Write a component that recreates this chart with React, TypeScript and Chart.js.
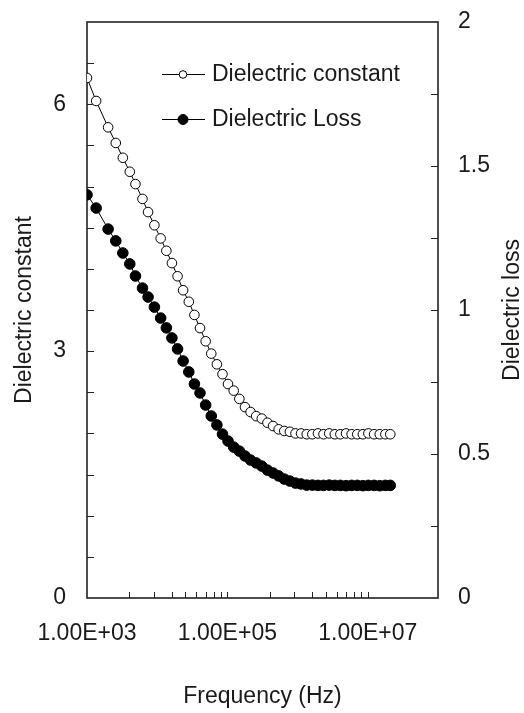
import React, { useEffect, useRef } from "react";
import { Chart, registerables } from "chart.js";

Chart.register(...registerables);

// ---- data ----
const FREQ_HZ = [
  1000, 1350, 2000, 2570, 3240, 4070, 4900, 6170, 7410, 9120,
  11200, 13500, 16200, 19500, 23400, 28200, 33900, 40700, 49000, 58900,
  70800, 85100, 102000, 123000, 148000, 178000, 214000, 257000, 309000, 372000,
  447000, 537000, 646000, 776000, 933000, 1120000, 1350000, 1620000, 1950000, 2340000,
  2820000, 3390000, 4070000, 4900000, 5890000, 7080000, 8510000, 10200000, 12300000, 14800000,
  17800000, 20900000,
];

const DIELECTRIC_CONSTANT = [
  6.32, 6.04, 5.72, 5.53, 5.35, 5.18, 5.03, 4.85, 4.69, 4.53,
  4.37, 4.22, 4.07, 3.91, 3.74, 3.6, 3.44, 3.28, 3.12, 2.97,
  2.84, 2.72, 2.6, 2.52, 2.42, 2.32, 2.26, 2.21, 2.18, 2.13,
  2.09, 2.05, 2.03, 2.02, 2.0, 2.0, 1.99, 1.99, 2.0, 1.99,
  2.0, 1.99, 1.99, 2.0, 1.99, 1.99, 1.99, 2.0, 1.99, 1.99,
  1.99, 1.99,
];

const DIELECTRIC_LOSS = [
  1.4, 1.354, 1.281, 1.24, 1.198, 1.16, 1.118, 1.076, 1.045, 1.01,
  0.972, 0.938, 0.903, 0.865, 0.823, 0.785, 0.743, 0.712, 0.67, 0.632,
  0.601, 0.569, 0.545, 0.524, 0.51, 0.493, 0.479, 0.469, 0.458, 0.444,
  0.434, 0.424, 0.413, 0.406, 0.399, 0.396, 0.392, 0.392, 0.391, 0.391,
  0.392, 0.391, 0.391, 0.39, 0.391, 0.391, 0.39, 0.391, 0.391, 0.39,
  0.391, 0.391,
];

const SERIES_LABELS = ["Dielectric constant", "Dielectric Loss"];
const X_TITLE = "Frequency (Hz)";
const Y_LEFT_TITLE = "Dielectric constant";
const Y_RIGHT_TITLE = "Dielectric loss";

const X_LABEL_TICKS = [1e3, 1e5, 1e7];
const X_MARK_TICKS = [
  4e3, 9e3, 16e3, 25e3, 36e3, 49e3, 64e3, 81e3, 1e5,
  4e5, 9e5, 1.6e6, 2.5e6, 3.6e6, 4.9e6, 6.4e6, 8.1e6, 1e7,
];
const LEFT_LABEL_TICKS = [0, 3, 6];
const LEFT_MARK_TICKS = [0.5, 1, 1.5, 2, 2.5, 3, 3.5, 4, 4.5, 5, 5.5, 6, 6.5];
const RIGHT_LABEL_TICKS = [0, 0.5, 1, 1.5, 2];
const RIGHT_MARK_TICKS = [0.25, 0.5, 0.75, 1, 1.25, 1.5, 1.75];

const FONT_FAMILY = "'Liberation Sans', Arial, Helvetica, sans-serif";
const TEXT_COLOR = "#1a1a1a";
const FONT_SIZE = 23;

function xLabel(v: number): string {
  const e = Math.round(Math.log10(v));
  return "1.00E+" + String(e).padStart(2, "0");
}

const decorPlugin = {
  id: "decor",
  beforeDatasetsDraw(chart: any) {
    const { ctx, chartArea: a, scales } = chart;
    ctx.save();
    ctx.strokeStyle = "#222";
    ctx.lineWidth = 1.6;
    ctx.strokeRect(a.left, a.top, a.right - a.left, a.bottom - a.top);
    ctx.lineWidth = 1;
    ctx.beginPath();
    X_MARK_TICKS.forEach((v) => {
      const px = Math.round(scales.x.getPixelForValue(v)) + 0.5;
      ctx.moveTo(px, a.bottom);
      ctx.lineTo(px, a.bottom - 6);
    });
    LEFT_MARK_TICKS.forEach((v) => {
      const py = Math.round(scales.y.getPixelForValue(v)) + 0.5;
      ctx.moveTo(a.left, py);
      ctx.lineTo(a.left + 7, py);
    });
    RIGHT_MARK_TICKS.forEach((v) => {
      const py = Math.round(scales.y2.getPixelForValue(v)) + 0.5;
      ctx.moveTo(a.right, py);
      ctx.lineTo(a.right - 7, py);
    });
    ctx.stroke();
    ctx.restore();
  },
  afterDraw(chart: any) {
    const { ctx, chartArea: a } = chart;
    ctx.save();
    // legend
    const rows = [
      { y: a.top + 52, fill: "#fff", r: 3.8 },
      { y: a.top + 97, fill: "#000", r: 5 },
    ];
    ctx.font = `${FONT_SIZE}px ${FONT_FAMILY}`;
    ctx.textBaseline = "middle";
    ctx.textAlign = "left";
    rows.forEach((row, i) => {
      const x0 = a.left + 75;
      const x1 = a.left + 118;
      const xm = a.left + 96;
      ctx.strokeStyle = "#000";
      ctx.lineWidth = 1;
      ctx.beginPath();
      ctx.moveTo(x0, row.y + 0.5);
      ctx.lineTo(x1, row.y + 0.5);
      ctx.stroke();
      ctx.beginPath();
      ctx.arc(xm, row.y + 0.5, row.r, 0, Math.PI * 2);
      ctx.fillStyle = row.fill;
      ctx.fill();
      ctx.stroke();
      ctx.fillStyle = TEXT_COLOR;
      ctx.fillText(SERIES_LABELS[i], a.left + 125, row.y + 1);
    });
    // right axis title (reads upward)
    ctx.translate(a.right + 75, (a.top + a.bottom) / 2);
    ctx.rotate(-Math.PI / 2);
    ctx.textAlign = "center";
    ctx.fillText(Y_RIGHT_TITLE, 0, 0);
    ctx.restore();
  },
};

export default function App() {
  const canvasRef = useRef<HTMLCanvasElement | null>(null);

  useEffect(() => {
    const canvas = canvasRef.current;
    if (!canvas) return;
    const font = { family: FONT_FAMILY, size: FONT_SIZE };
    const chart = new Chart(canvas, {
      type: "line",
      data: {
        datasets: [
          {
            label: SERIES_LABELS[0],
            data: FREQ_HZ.map((f, i) => ({ x: f, y: DIELECTRIC_CONSTANT[i] })),
            yAxisID: "y",
            borderColor: "#000",
            borderWidth: 1,
            pointRadius: 4.8,
            pointBackgroundColor: "#fff",
            pointBorderColor: "#000",
            pointBorderWidth: 1,
            tension: 0,
            fill: false,
          },
          {
            label: SERIES_LABELS[1],
            data: FREQ_HZ.map((f, i) => ({ x: f, y: DIELECTRIC_LOSS[i] })),
            yAxisID: "y2",
            borderColor: "#000",
            borderWidth: 1,
            pointRadius: 5.3,
            pointBackgroundColor: "#000",
            pointBorderColor: "#000",
            pointBorderWidth: 1,
            tension: 0,
            fill: false,
          },
        ],
      },
      options: {
        responsive: false,
        animation: false,
        devicePixelRatio: 1,
        layout: { padding: { top: 22, left: 0, right: 0, bottom: 0 } },
        plugins: { legend: { display: false }, tooltip: { enabled: false } },
        scales: {
          x: {
            type: "logarithmic",
            position: "bottom",
            min: 1e3,
            max: 1e8,
            afterBuildTicks: (s: any) => {
              s.ticks = X_LABEL_TICKS.map((v) => ({ value: v }));
            },
            afterFit: (s: any) => {
              s.height = 115;
              s.paddingLeft = 0;
              s.paddingRight = 0;
            },
            ticks: {
              callback: (v: any) => xLabel(Number(v)),
              font,
              color: TEXT_COLOR,
              padding: 22,
              maxRotation: 0,
              autoSkip: false,
            },
            grid: { display: false, drawTicks: false },
            border: { display: false },
            title: {
              display: true,
              text: X_TITLE,
              font,
              color: TEXT_COLOR,
              padding: { top: 0, bottom: 3 },
            },
          },
          y: {
            type: "linear",
            position: "left",
            min: 0,
            max: 7,
            afterBuildTicks: (s: any) => {
              s.ticks = LEFT_LABEL_TICKS.map((v) => ({ value: v }));
            },
            afterFit: (s: any) => {
              s.width = 87;
              s.paddingTop = 0;
              s.paddingBottom = 0;
            },
            ticks: { font, color: TEXT_COLOR, padding: 21, autoSkip: false },
            grid: { display: false, drawTicks: false },
            border: { display: false },
            title: {
              display: true,
              text: Y_LEFT_TITLE,
              font,
              color: TEXT_COLOR,
              padding: { top: 11, bottom: 0 },
            },
          },
          y2: {
            type: "linear",
            position: "right",
            min: 0,
            max: 2,
            afterBuildTicks: (s: any) => {
              s.ticks = RIGHT_LABEL_TICKS.map((v) => ({ value: v }));
            },
            afterFit: (s: any) => {
              s.width = 86;
              s.paddingTop = 0;
              s.paddingBottom = 0;
            },
            ticks: {
              font,
              color: TEXT_COLOR,
              padding: 20,
              autoSkip: false,
              callback: (v: any) => String(v),
            },
            grid: { display: false, drawTicks: false },
            border: { display: false },
          },
        },
      },
      plugins: [decorPlugin],
    } as any);
    return () => chart.destroy();
  }, []);

  return (
    <div style={{ position: "absolute", left: 0, top: 0, width: 524, height: 713, background: "#fff" }}>
      <canvas ref={canvasRef} width={524} height={713} />
    </div>
  );
}
